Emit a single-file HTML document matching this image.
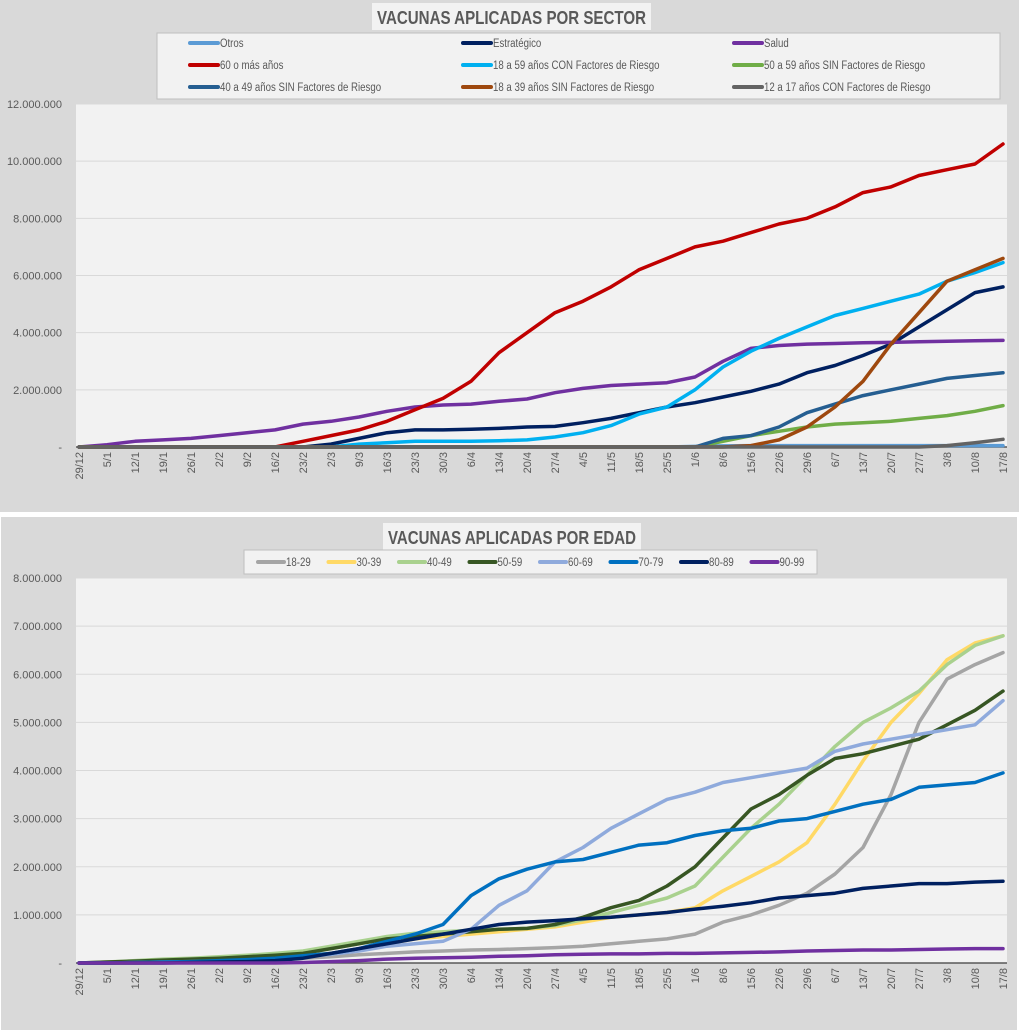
<!DOCTYPE html>
<html><head><meta charset="utf-8">
<style>
html,body{margin:0;padding:0;background:#fff;width:1019px;height:1030px;overflow:hidden}
svg{display:block}
text{font-family:"Liberation Sans Narrow","Liberation Sans",sans-serif;fill:#595959}
</style></head>
<body>
<svg id="c" width="1019" height="1030"></svg>
<script>
// ---- Shared x categories (weekly) ----
const weeks = ["29/12","5/1","12/1","19/1","26/1","2/2","9/2","16/2","23/2","2/3","9/3","16/3","23/3","30/3","6/4","13/4","20/4","27/4","4/5","11/5","18/5","25/5","1/6","8/6","15/6","22/6","29/6","6/7","13/7","20/7","27/7","3/8","10/8","17/8"];
// ---- Chart 1: by sector (millions) ----
const sectorNames = ["Otros","Estratégico","Salud","60 o más años","18 a 59 años CON Factores de Riesgo","50 a 59 años SIN Factores de Riesgo","40 a 49 años SIN Factores de Riesgo","18 a 39 años SIN Factores de Riesgo","12 a 17 años CON Factores de Riesgo"];
const sectorColors = ["#5b9bd5","#002060","#7030a0","#c00000","#00b0f0","#70ad47","#255e91","#9e480e","#636363"];
const otros = [0,0,0,0,0,0,0,0,0,0,0,0,0,0,0,0,0,0,0,0,0,0,0.02,0.04,0.05,0.05,0.05,0.05,0.05,0.05,0.05,0.05,0.05,0.05];
const estrategico = [0,0,0,0,0,0,0,0,0,0.1,0.3,0.5,0.6,0.6,0.62,0.65,0.7,0.72,0.85,1.0,1.2,1.4,1.55,1.75,1.95,2.2,2.6,2.85,3.2,3.6,4.2,4.8,5.4,5.6];
const salud = [0,0.08,0.2,0.25,0.3,0.4,0.5,0.6,0.8,0.9,1.05,1.25,1.4,1.47,1.5,1.6,1.68,1.9,2.05,2.15,2.2,2.25,2.45,3.0,3.45,3.55,3.6,3.62,3.65,3.66,3.68,3.7,3.72,3.73];
const mas60 = [0,0,0,0,0,0,0,0,0.2,0.4,0.6,0.9,1.3,1.7,2.3,3.3,4.0,4.7,5.1,5.6,6.2,6.6,7.0,7.2,7.5,7.8,8.0,8.4,8.9,9.1,9.5,9.7,9.9,10.6];
const con1859 = [0,0,0,0,0,0,0,0,0,0,0.1,0.15,0.2,0.2,0.2,0.22,0.25,0.35,0.5,0.75,1.15,1.4,2.0,2.8,3.35,3.8,4.2,4.6,4.85,5.1,5.35,5.8,6.1,6.45];
const sin5059 = [0,0,0,0,0,0,0,0,0,0,0,0,0,0,0,0,0,0,0,0,0,0,0,0.2,0.4,0.55,0.7,0.8,0.85,0.9,1.0,1.1,1.25,1.45];
const sin4049 = [0,0,0,0,0,0,0,0,0,0,0,0,0,0,0,0,0,0,0,0,0,0,0,0.3,0.4,0.7,1.2,1.5,1.8,2.0,2.2,2.4,2.5,2.6];
const sin1839 = [0,0,0,0,0,0,0,0,0,0,0,0,0,0,0,0,0,0,0,0,0,0,0,0,0.05,0.25,0.7,1.4,2.3,3.6,4.7,5.8,6.2,6.6];
const con1217 = [0,0,0,0,0,0,0,0,0,0,0,0,0,0,0,0,0,0,0,0,0,0,0,0,0,0,0,0,0,0,0,0.05,0.15,0.27];
const sectorSeries = [otros,estrategico,salud,mas60,con1859,sin5059,sin4049,sin1839,con1217];
const ticks1 = ["-","2.000.000","4.000.000","6.000.000","8.000.000","10.000.000","12.000.000"];
// ---- Chart 2: by age (millions) ----
const ageNames = ["18-29","30-39","40-49","50-59","60-69","70-79","80-89","90-99"];
const ageColors = ["#a5a5a5","#ffd966","#a9d18e","#375623","#8faadc","#0070c0","#002060","#7030a0"];
const a1829 = [0,0,0,0.01,0.02,0.03,0.05,0.07,0.1,0.13,0.17,0.2,0.23,0.25,0.27,0.28,0.3,0.32,0.35,0.4,0.45,0.5,0.6,0.85,1.0,1.2,1.45,1.85,2.4,3.5,5.0,5.9,6.2,6.45];
const a3039 = [0,0,0.01,0.02,0.03,0.05,0.07,0.1,0.15,0.2,0.3,0.4,0.5,0.55,0.6,0.65,0.7,0.75,0.85,0.95,1.0,1.05,1.15,1.5,1.8,2.1,2.5,3.3,4.2,5.0,5.6,6.3,6.65,6.8];
const a4049 = [0,0.02,0.05,0.08,0.1,0.13,0.16,0.2,0.25,0.35,0.45,0.55,0.62,0.65,0.68,0.7,0.72,0.78,0.9,1.05,1.2,1.35,1.6,2.2,2.8,3.3,3.9,4.5,5.0,5.3,5.65,6.2,6.6,6.8];
const a5059 = [0,0.02,0.04,0.06,0.08,0.1,0.13,0.16,0.2,0.3,0.4,0.5,0.55,0.6,0.65,0.7,0.72,0.8,0.95,1.15,1.3,1.6,2.0,2.6,3.2,3.5,3.9,4.25,4.35,4.5,4.65,4.95,5.25,5.65];
const a6069 = [0,0,0.01,0.02,0.03,0.04,0.06,0.08,0.12,0.18,0.25,0.35,0.4,0.45,0.7,1.2,1.5,2.1,2.4,2.8,3.1,3.4,3.55,3.75,3.85,3.95,4.05,4.4,4.55,4.65,4.75,4.85,4.95,5.45];
const a7079 = [0,0,0.01,0.02,0.03,0.05,0.07,0.1,0.15,0.2,0.3,0.45,0.6,0.8,1.4,1.75,1.95,2.1,2.15,2.3,2.45,2.5,2.65,2.75,2.8,2.95,3.0,3.15,3.3,3.4,3.65,3.7,3.75,3.95];
const a8089 = [0,0,0,0,0.01,0.02,0.03,0.05,0.1,0.2,0.3,0.4,0.5,0.6,0.7,0.8,0.85,0.88,0.92,0.95,1.0,1.05,1.12,1.18,1.25,1.35,1.4,1.45,1.55,1.6,1.65,1.65,1.68,1.7];
const a9099 = [0,0,0,0,0,0,0,0,0.01,0.03,0.05,0.08,0.1,0.11,0.12,0.14,0.15,0.17,0.18,0.19,0.19,0.2,0.2,0.21,0.22,0.23,0.25,0.26,0.27,0.27,0.28,0.29,0.3,0.3];
const ageSeries = [a1829,a3039,a4049,a5059,a6069,a7079,a8089,a9099];
const ticks2 = ["-","1.000.000","2.000.000","3.000.000","4.000.000","5.000.000","6.000.000","7.000.000","8.000.000"];

const NS="http://www.w3.org/2000/svg";
const svg=document.getElementById('c');
function mk(tag,attrs,parent){const e=document.createElementNS(NS,tag);for(const k in attrs)e.setAttribute(k,attrs[k]);(parent||svg).appendChild(e);return e;}

function chart(cfg){
  const g=mk('g',{});
  
  
  const bg=mk('rect',{x:cfg.px,y:cfg.py,width:cfg.pw,height:cfg.ph,fill:'#d9d9d9'},g);
  
  
  const pa=mk('rect',{x:76,y:cfg.top,width:931,height:cfg.bot-cfg.top,fill:'#f2f2f2'},g);
  
  
  const n=cfg.ticks.length-1;
  const yS=v=>cfg.bot-(v/cfg.max)*(cfg.bot-cfg.top);
  const xS=i=>79+i*(1003-79)/(weeks.length-1);
  for(let i=0;i<=n;i++){
    const v=cfg.max*i/n;const y=yS(v);
    if(i>0){const gl=mk('line',{x1:76,x2:1007,y1:y,y2:y,stroke:'#d9d9d9','stroke-width':1},g);
      
      }
    const t=mk('text',{x:62,y:y+4,'text-anchor':'end','font-size':11},g);t.textContent=cfg.ticks[i];
    
    
  }
  const ax=mk('line',{x1:76,x2:1007,y1:cfg.bot,y2:cfg.bot,stroke:'#595959','stroke-width':1.5},g);
  
  
  weeks.forEach((w,i)=>{
    const x=xS(i);
    const t=mk('text',{x:0,y:0,'text-anchor':'end','font-size':11,transform:`translate(${x+4},${cfg.bot+5}) rotate(-90)`},g);
    t.textContent=w;
    
    
  });
  cfg.series.forEach((s,k)=>{
    const d=s.map((v,i)=>(i?'L':'M')+xS(i).toFixed(1)+','+yS(v).toFixed(1)).join('');
    const p=mk('path',{d,fill:'none',stroke:cfg.colors[k],'stroke-width':3.5,'stroke-linejoin':'round','stroke-linecap':'round'},g);
    
    
  });
  // title
  const tb=mk('rect',{x:cfg.tx,y:cfg.ty,width:cfg.tw,height:27,fill:'#f2f2f2'},g);
  
  
  const tt=mk('text',{x:cfg.tx+5,y:cfg.ty+21,'font-size':18,'font-weight':'bold',textLength:cfg.tw-10,lengthAdjust:'spacingAndGlyphs'},g);
  tt.textContent=cfg.title;
  
  
  // legend
  const lb=mk('rect',{x:cfg.lx,y:cfg.ly,width:cfg.lw,height:cfg.lh,fill:'#f2f2f2',stroke:'#bfbfbf'},g);
  
  
  cfg.names.forEach((nm,k)=>{
    const [ex,ey]=cfg.legPos(k);
    const le=mk('g',{},g);
    
    
    mk('line',{x1:ex,x2:ex+cfg.sw,y1:ey,y2:ey,stroke:cfg.colors[k],'stroke-width':4,'stroke-linecap':'round'},le);
    const t=mk('text',{x:ex+cfg.sw+2,y:ey+4,'font-size':11.5},le);t.textContent=nm;
    const L=t.getComputedTextLength();
    t.setAttribute('textLength',(L*0.84).toFixed(1));
    t.setAttribute('lengthAdjust','spacingAndGlyphs');
  });
}
chart({name:'sector-chart',px:0,py:0,pw:1019,ph:512,top:104,bot:447,max:12,ticks:ticks1,series:sectorSeries,colors:sectorColors,names:sectorNames,
  title:'VACUNAS APLICADAS POR SECTOR',tx:372,ty:3,tw:279,lx:157,ly:33,lw:843,lh:66,sw:28,
  legPos:k=>[[190,463,734][k%3],[43,65,87][Math.floor(k/3)]]});
chart({name:'age-chart',px:1,py:517,pw:1016,ph:513,top:578,bot:963,max:8,ticks:ticks2,series:ageSeries,colors:ageColors,names:ageNames,
  title:'VACUNAS APLICADAS POR EDAD',tx:383,ty:523,tw:258,lx:244,ly:550,lw:573,lh:24,sw:26,
  legPos:k=>[258+k*70.5,562]});
</script>
</body></html>
